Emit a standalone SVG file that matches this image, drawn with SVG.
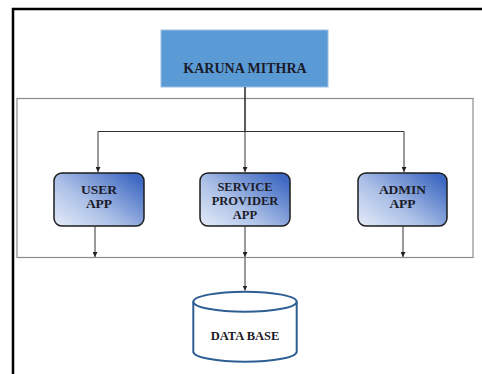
<svg xmlns="http://www.w3.org/2000/svg" width="482" height="374" viewBox="0 0 482 374">
  <defs>
    <linearGradient id="appFill" x1="0" y1="1" x2="1" y2="0.2">
      <stop offset="0" stop-color="#e4ebf7"/>
      <stop offset="0.45" stop-color="#abc0e7"/>
      <stop offset="1" stop-color="#3f69c2"/>
    </linearGradient>
    <marker id="arrow" viewBox="0 0 10 10" refX="10" refY="5" markerWidth="5" markerHeight="5" markerUnits="userSpaceOnUse" orient="auto">
      <path d="M0,0 L10,5 L0,10 z" fill="#222"/>
    </marker>
    <style>
      .frame { fill: none; stroke: #000; stroke-width: 2.5; }
      .panel { fill: none; stroke: #8a8a8a; stroke-width: 1.2; }
      .link { fill: none; stroke: #333; stroke-width: 1; }
      .trunk { fill: none; stroke: #333; stroke-width: 1.6; }
      .app { fill: url(#appFill); stroke: #1c1c1c; stroke-width: 1.5; }
      .label { font-family: "Liberation Serif", "Times New Roman", serif; font-weight: bold; fill: #1b1b28; text-anchor: middle; }
      .db { fill: #fff; stroke: #2f5f92; stroke-width: 2; }
    </style>
  </defs>

  <rect width="482" height="374" fill="#fff"/>

  <!-- outer frame (left and top edges only) -->
  <path class="frame" d="M13,374 V9 H482"/>

  <!-- panel grouping the three apps -->
  <rect class="panel" x="17" y="98.5" width="456" height="159"/>

  <g id="karuna-mithra">
    <rect x="161" y="30" width="167" height="57" fill="#5b9bd5" stroke="#9cc0e6" stroke-width="1"/>
    <text class="label" x="245" y="72.5" font-size="14">KARUNA MITHRA</text>
  </g>

  <g id="user-app">
    <rect class="app" x="54" y="173" width="90" height="53" rx="8"/>
    <text class="label" x="99" y="193.5" font-size="13.5">USER</text>
    <text class="label" x="99" y="208" font-size="13.5">APP</text>
  </g>

  <g id="service-provider-app">
    <rect class="app" x="200" y="173" width="90" height="53" rx="8"/>
    <text class="label" x="245" y="191" font-size="12.5">SERVICE</text>
    <text class="label" x="245" y="205" font-size="12.5">PROVIDER</text>
    <text class="label" x="245" y="218.5" font-size="12.5">APP</text>
  </g>

  <g id="admin-app">
    <rect class="app" x="358" y="173" width="89" height="53" rx="8"/>
    <text class="label" x="402.5" y="193.5" font-size="13.5">ADMIN</text>
    <text class="label" x="402.5" y="208" font-size="13.5">APP</text>
  </g>

  <g id="data-base">
    <path class="db" d="M193.3,301.7 V351.7 A51.7,10 0 0 0 296.7,351.7 V301.7"/>
    <ellipse class="db" cx="245" cy="301.7" rx="51.7" ry="10"/>
    <text class="label" x="245" y="340" font-size="12.5">DATA BASE</text>
  </g>

  <g id="connectors">
    <path class="trunk" d="M245,87 V131.5"/>
    <path class="link" d="M98,131.5 H404"/>
    <path class="link" d="M245,131.5 V172" marker-end="url(#arrow)"/>
    <path class="link" d="M98,131.5 V172" marker-end="url(#arrow)"/>
    <path class="link" d="M404,131.5 V172" marker-end="url(#arrow)"/>
    <path class="link" d="M95,226 V257" marker-end="url(#arrow)"/>
    <path class="link" d="M245,226 V257" marker-end="url(#arrow)"/>
    <path class="link" d="M403,226 V257" marker-end="url(#arrow)"/>
    <path class="link" d="M245,258 V290.5" marker-end="url(#arrow)"/>
  </g>
</svg>
